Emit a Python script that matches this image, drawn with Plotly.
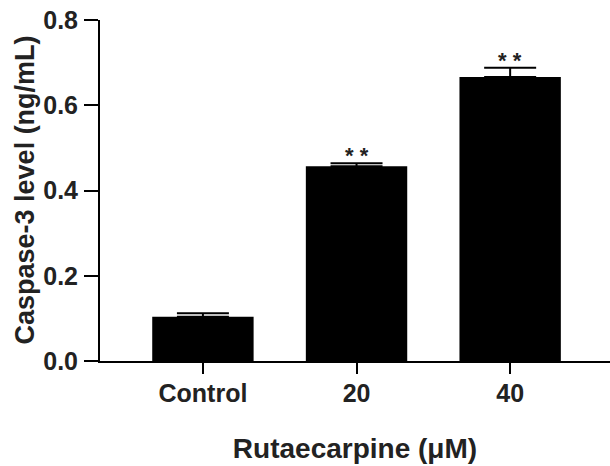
import plotly.graph_objects as go

categories = ["Control", "20", "40"]
values = [0.104, 0.457, 0.666]
errors = [0.008, 0.007, 0.022]
significance = ["", "* *", "* *"]
y_ticks = [0.0, 0.2, 0.4, 0.6, 0.8]

FONT = "Liberation Sans, Arial, sans-serif"

fig = go.Figure()
fig.add_trace(go.Bar(
    x=list(range(len(categories))),
    y=values,
    width=0.66,
    marker=dict(color="black", line=dict(color="black", width=0)),
    error_y=dict(type="data", array=errors, arrayminus=[0, 0, 0], symmetric=False,
                 color="black", thickness=2, width=26),
    showlegend=False,
))

for i, (v, e, s) in enumerate(zip(values, errors, significance)):
    if s:
        fig.add_annotation(x=i, y=v + e, xref="x", yref="y", text=f"<b>{s}</b>", showarrow=False,
                           yanchor="bottom", yshift=-7,
                           font=dict(family=FONT, size=22, color="#222"))

# y-axis title placed as a rotated annotation for precise positioning
fig.add_annotation(x=-76 / 510, y=0.5, xref="paper", yref="paper",
                   text="<b>Caspase-3 level (ng/mL)</b>", textangle=-90, showarrow=False,
                   xanchor="center", yanchor="middle",
                   font=dict(family=FONT, size=27, color="#222"))

fig.update_layout(
    width=610, height=466,
    margin=dict(l=100, r=0, t=20, b=105),
    plot_bgcolor="white", paper_bgcolor="white",
    font=dict(family=FONT, color="#222"),
)
fig.update_xaxes(
    range=[-0.67, 2.65],
    tickvals=list(range(len(categories))),
    ticktext=[f"<b>{c}</b>" for c in categories],
    showline=True, linecolor="black", linewidth=2,
    ticks="outside", ticklen=11, tickwidth=2, tickcolor="black",
    ticklabelstandoff=-2,
    tickfont=dict(family=FONT, size=25, color="#222"),
    title=dict(text="<b>Rutaecarpine (μM)</b>", font=dict(family=FONT, size=28, color="#222"), standoff=32),
    showgrid=False, zeroline=False, automargin=False,
)
fig.update_yaxes(
    range=[0, 0.8],
    tickvals=y_ticks, ticktext=[f"<b>{t:.1f}</b>" for t in y_ticks],
    showline=True, linecolor="black", linewidth=2,
    ticks="outside", ticklen=14, tickwidth=2, tickcolor="black",
    ticklabelstandoff=1,
    tickfont=dict(family=FONT, size=25, color="#222"),
    showgrid=False, zeroline=False, automargin=False,
)

# remove the default page margin so the figure fills the window exactly
fig.write_html("out.html", config={"displayModeBar": False},
               post_script="document.body.style.margin='0';")
